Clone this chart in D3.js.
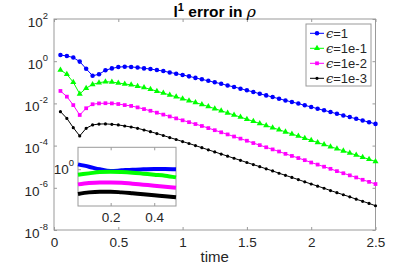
<!DOCTYPE html>
<html>
<head>
<meta charset="utf-8">
<script src="https://cdn.jsdelivr.net/npm/d3@7"></script>
<style>
  body { margin: 0; background: #fff; }
  svg { display: block; font-family: "Liberation Sans", Arial, sans-serif; }
</style>
</head>
<body>
<svg id="chart" width="415" height="266"></svg>
<script>
// time samples
const times = [0.05, 0.1, 0.15, 0.2, 0.25, 0.3, 0.35, 0.4, 0.45, 0.5,
    0.55, 0.6, 0.65, 0.7, 0.75, 0.8, 0.85, 0.9, 0.95, 1.0,
    1.05, 1.1, 1.15, 1.2, 1.25, 1.3, 1.35, 1.4, 1.45, 1.5,
    1.55, 1.6, 1.65, 1.7, 1.75, 1.8, 1.85, 1.9, 1.95, 2.0,
    2.05, 2.1, 2.15, 2.2, 2.25, 2.3, 2.35, 2.4, 2.45, 2.5];

const legendLabels = ["1", "1e-1", "1e-2", "1e-3"];

// l1 error, one array per epsilon
const errEps1 = [1.95, 1.78, 1.48, 0.955, 0.437, 0.204, 0.240, 0.372, 0.457, 0.525,
    0.550, 0.537, 0.501, 0.457, 0.427, 0.380, 0.339, 0.295, 0.257, 0.224,
    0.191, 0.162, 0.138, 0.117, 0.100, 0.0851, 0.0708, 0.0603, 0.0501, 0.0417,
    0.0347, 0.0288, 0.0240, 0.0200, 0.0166, 0.0138, 0.0117, 0.00977, 0.00813, 0.00676,
    0.00562, 0.00468, 0.00389, 0.00324, 0.00269, 0.00224, 0.00186, 0.00155, 0.00129, 0.00107];
const errEps1e1 = [3.80e-1, 2.40e-1, 1.00e-1, 2.82e-2, 5.25e-2, 7.94e-2, 9.55e-2, 1.07e-1, 1.02e-1, 9.33e-2,
    8.32e-2, 7.59e-2, 6.46e-2, 5.62e-2, 4.68e-2, 3.80e-2, 3.09e-2, 2.51e-2, 2.04e-2, 1.66e-2,
    1.35e-2, 1.10e-2, 8.91e-3, 7.08e-3, 5.62e-3, 4.47e-3, 3.55e-3, 2.82e-3, 2.24e-3, 1.78e-3,
    1.41e-3, 1.12e-3, 8.91e-4, 7.08e-4, 5.62e-4, 4.47e-4, 3.55e-4, 2.82e-4, 2.24e-4, 1.78e-4,
    1.41e-4, 1.12e-4, 8.91e-5, 7.08e-5, 5.62e-5, 4.47e-5, 3.55e-5, 2.82e-5, 2.24e-5, 1.78e-5];
const errEps1e2 = [3.89e-2, 2.09e-2, 8.32e-3, 2.82e-3, 5.89e-3, 9.12e-3, 1.00e-2, 1.02e-2, 1.00e-2, 9.33e-3,
    8.32e-3, 7.59e-3, 6.46e-3, 5.37e-3, 4.47e-3, 3.63e-3, 2.95e-3, 2.40e-3, 1.95e-3, 1.58e-3,
    1.29e-3, 1.05e-3, 8.51e-4, 6.76e-4, 5.37e-4, 4.27e-4, 3.39e-4, 2.69e-4, 2.14e-4, 1.70e-4,
    1.32e-4, 1.05e-4, 8.32e-5, 6.61e-5, 5.25e-5, 4.07e-5, 3.24e-5, 2.57e-5, 2.04e-5, 1.58e-5,
    1.26e-5, 1.00e-5, 7.94e-6, 6.17e-6, 4.90e-6, 3.89e-6, 3.09e-6, 2.40e-6, 1.91e-6, 1.51e-6];
const errEps1e3 = [4.07e-3, 1.95e-3, 7.08e-4, 2.88e-4, 6.61e-4, 9.55e-4, 1.05e-3, 1.07e-3, 1.02e-3, 9.55e-4,
    8.51e-4, 7.59e-4, 6.61e-4, 5.50e-4, 4.57e-4, 3.72e-4, 3.02e-4, 2.40e-4, 1.95e-4, 1.55e-4,
    1.26e-4, 1.00e-4, 7.94e-5, 6.31e-5, 5.01e-5, 3.98e-5, 3.16e-5, 2.51e-5, 2.00e-5, 1.58e-5,
    1.26e-5, 1.00e-5, 7.94e-6, 6.31e-6, 4.90e-6, 3.89e-6, 3.09e-6, 2.45e-6, 1.91e-6, 1.51e-6,
    1.20e-6, 9.55e-7, 7.41e-7, 5.89e-7, 4.68e-7, 3.72e-7, 2.88e-7, 2.29e-7, 1.82e-7, 1.41e-7];

// inset (zoom on early times)
const insetTimes = [0.05, 0.1, 0.15, 0.2, 0.25, 0.3, 0.35, 0.4, 0.45, 0.5];
const insetEps1 = [1.33, 1.16, 0.993, 0.899, 0.935, 0.973, 0.993, 1.01, 1.01, 0.993];
const insetEps1e1 = [0.724, 0.783, 0.847, 0.865, 0.847, 0.815, 0.769, 0.724, 0.684, 0.619];
const insetEps1e2 = [0.410, 0.444, 0.461, 0.461, 0.453, 0.427, 0.403, 0.379, 0.358, 0.337];
const insetEps1e3 = [0.232, 0.256, 0.267, 0.267, 0.256, 0.242, 0.228, 0.215, 0.203, 0.191];

const xTicks = [0, 0.5, 1, 1.5, 2, 2.5];
const yTickExps = [2, 0, -2, -4, -6, -8];
const insetXTicks = [0.2, 0.4];
const insetYTickExps = [0];

const colors = ["#0000ff", "#00ff00", "#ff00ff", "#000000"];
const symbols = [d3.symbolCircle, d3.symbolTriangle, d3.symbolSquare, d3.symbolCircle];
const symbolSizes = [16, 16, 14, 8];
const textColor = "#262626";
const axisColor = "#9a9a9a";

let svg = d3.select("#chart");
let margin = {top: 19, right: 39.5, bottom: 36, left: 54};
let width = 415 - margin.left - margin.right;
let height = 266 - margin.top - margin.bottom;

let x = d3.scaleLinear().domain([0, 2.5]).range([margin.left, margin.left + width]);
let y = d3.scaleLog().domain([1e-8, 1e2]).range([margin.top + height, margin.top]);

let series = [errEps1, errEps1e1, errEps1e2, errEps1e3];

// box
svg.append("rect")
    .attr("x", margin.left).attr("y", margin.top)
    .attr("width", width).attr("height", height)
    .attr("fill", "#fff").attr("stroke", axisColor).attr("stroke-width", 1);

function styleAxis(g) {
    g.select(".domain").remove();
    g.selectAll(".tick line").attr("stroke", axisColor);
}

// axes with inward ticks on all four sides
svg.append("g")
    .attr("transform", "translate(0," + (margin.top + height) + ")")
    .call(d3.axisBottom(x).tickValues(xTicks).tickSize(-3).tickSizeOuter(0).tickFormat(d => d))
    .call(styleAxis)
    .call(g => g.selectAll(".tick text")
        .attr("fill", textColor).attr("font-size", "13.5px").attr("dy", null).attr("y", 16.5));
svg.append("g")
    .attr("transform", "translate(0," + margin.top + ")")
    .call(d3.axisTop(x).tickValues(xTicks).tickSize(-3).tickSizeOuter(0).tickFormat(""))
    .call(styleAxis);

let yTickVals = yTickExps.map(e => Math.pow(10, e));
svg.append("g")
    .attr("transform", "translate(" + margin.left + ",0)")
    .call(d3.axisLeft(y).tickValues(yTickVals).tickSize(-3).tickSizeOuter(0).tickFormat(""))
    .call(styleAxis);
svg.append("g")
    .attr("transform", "translate(" + (margin.left + width) + ",0)")
    .call(d3.axisRight(y).tickValues(yTickVals).tickSize(-3).tickSizeOuter(0).tickFormat(""))
    .call(styleAxis);

function powerLabel(g, xPos, yPos, exp, size) {
    let t = g.append("text")
        .attr("x", xPos).attr("y", yPos)
        .attr("text-anchor", "end")
        .attr("fill", textColor)
        .attr("font-size", size + "px");
    t.append("tspan").text("10");
    t.append("tspan").attr("dy", -size * 0.6).attr("font-size", (size * 0.7) + "px").text(exp);
}

yTickExps.forEach(function (e) {
    powerLabel(svg, 48, y(Math.pow(10, e)) + 7.7, e, 13.5);
});

// x label
svg.append("text")
    .attr("x", margin.left + width / 2).attr("y", 261.5)
    .attr("text-anchor", "middle")
    .attr("fill", textColor)
    .attr("font-size", "15px")
    .text("time");

// title
let title = svg.append("text")
    .attr("x", margin.left + width / 2).attr("y", 16.5)
    .attr("text-anchor", "middle")
    .attr("fill", "#000")
    .attr("font-size", "15.5px")
    .attr("font-weight", "bold");
title.append("tspan").text("l");
title.append("tspan").attr("dy", -6).attr("font-size", "11px").text("1");
title.append("tspan").attr("dy", 6).text(" error in ");
title.append("tspan")
    .attr("font-family", "'DejaVu Serif', serif")
    .attr("font-style", "italic").attr("font-weight", "normal")
    .text("\u03c1");

// main curves
let line = d3.line()
    .x((d, i) => x(times[i]))
    .y(d => y(d));

series.forEach(function (vals, k) {
    svg.append("path")
        .datum(vals)
        .attr("d", line)
        .attr("fill", "none")
        .attr("stroke", colors[k])
        .attr("stroke-width", 1);

    svg.append("g").selectAll("path")
        .data(vals)
        .join("path")
        .attr("transform", (d, i) => "translate(" + x(times[i]) + "," + y(d) + ")")
        .attr("d", d3.symbol().type(symbols[k]).size(symbolSizes[k]))
        .attr("fill", colors[k]);
});

// legend
let legend = svg.append("g");
legend.append("rect")
    .attr("x", 306).attr("y", 24).attr("width", 65).attr("height", 62)
    .attr("fill", "#fff").attr("stroke", axisColor);
legendLabels.forEach(function (lab, k) {
    let ly = 33.3 + k * 15;
    legend.append("line")
        .attr("x1", 310).attr("x2", 324).attr("y1", ly).attr("y2", ly)
        .attr("stroke", colors[k]).attr("stroke-width", 1);
    legend.append("path")
        .attr("transform", "translate(317," + ly + ")")
        .attr("d", d3.symbol().type(symbols[k]).size(symbolSizes[k]))
        .attr("fill", colors[k]);
    let t = legend.append("text")
        .attr("x", 326).attr("y", ly + 4.7)
        .attr("fill", textColor)
        .attr("font-size", "13px");
    t.append("tspan")
        .attr("font-family", "'DejaVu Serif', serif")
        .attr("font-style", "italic")
        .text("\u03f5");
    t.append("tspan").text("=" + lab);
});

// inset
let inset = {left: 78, top: 147.3, right: 176, bottom: 206};
let xi = d3.scaleLinear().domain([0.05, 0.5]).range([inset.left, inset.right]);
let yi = d3.scaleLog().domain([Math.pow(10, -0.94), Math.pow(10, 0.56)]).range([inset.bottom, inset.top]);
let insetSeries = [insetEps1, insetEps1e1, insetEps1e2, insetEps1e3];

let ig = svg.append("g");
ig.append("rect")
    .attr("x", inset.left).attr("y", inset.top)
    .attr("width", inset.right - inset.left).attr("height", inset.bottom - inset.top)
    .attr("fill", "#fff").attr("stroke", axisColor);

ig.append("g")
    .attr("transform", "translate(0," + inset.bottom + ")")
    .call(d3.axisBottom(xi).tickValues(insetXTicks).tickSize(-3).tickSizeOuter(0).tickFormat(d => d))
    .call(styleAxis)
    .call(g => g.selectAll(".tick text")
        .attr("fill", textColor).attr("font-size", "13.5px").attr("dy", null).attr("y", 15.7));
ig.append("g")
    .attr("transform", "translate(0," + inset.top + ")")
    .call(d3.axisTop(xi).tickValues(insetXTicks).tickSize(-3).tickSizeOuter(0).tickFormat(""))
    .call(styleAxis);
ig.append("g")
    .attr("transform", "translate(" + inset.left + ",0)")
    .call(d3.axisLeft(yi).tickValues(insetYTickExps.map(e => Math.pow(10, e))).tickSize(-3).tickSizeOuter(0).tickFormat(""))
    .call(styleAxis);
ig.append("g")
    .attr("transform", "translate(" + inset.right + ",0)")
    .call(d3.axisRight(yi).tickValues(insetYTickExps.map(e => Math.pow(10, e))).tickSize(-3).tickSizeOuter(0).tickFormat(""))
    .call(styleAxis);
insetYTickExps.forEach(function (e) {
    powerLabel(ig, 74, yi(Math.pow(10, e)) + 5, e, 13.5);
});

let insetLine = d3.line()
    .x((d, i) => xi(insetTimes[i]))
    .y(d => yi(d))
    .curve(d3.curveMonotoneX);

insetSeries.forEach(function (vals, k) {
    ig.append("path")
        .datum(vals)
        .attr("d", insetLine)
        .attr("fill", "none")
        .attr("stroke", colors[k])
        .attr("stroke-width", 4);
});
</script>
</body>
</html>
